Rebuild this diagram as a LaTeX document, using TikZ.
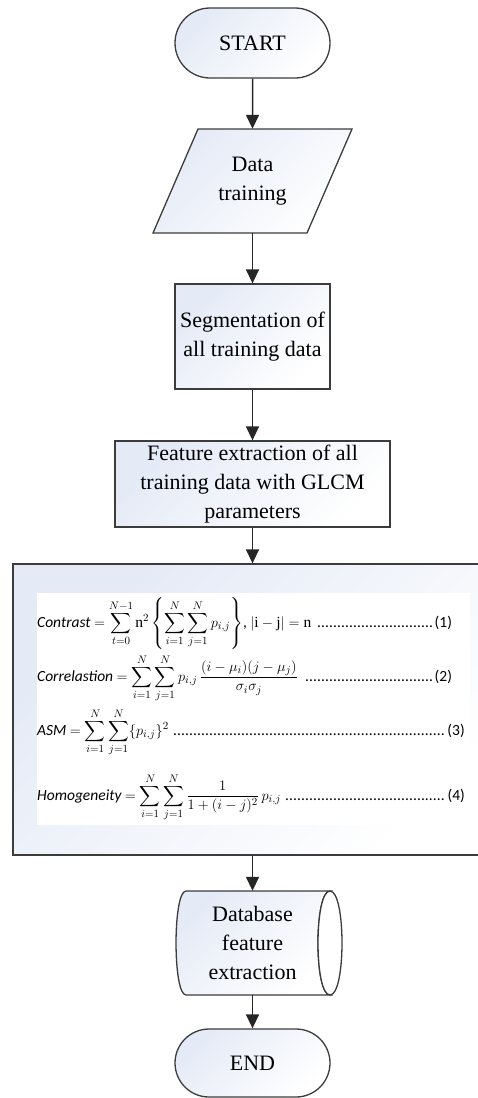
\documentclass[tikz,border=0pt]{standalone}
\usepackage{amsmath}
\usepackage{fontspec}
\setmainfont{Liberation Serif}
\newfontfamily\serifx{Liberation Serif}
\newfontfamily\eqf{Carlito}
\usetikzlibrary{shapes.misc,arrows.meta}
\definecolor{fillc}{RGB}{228,234,246}
\definecolor{edgec}{RGB}{60,60,60}
\newcommand\mydotsfill{\leaders\hbox to 4pt{\hss.\hss}\hfill}
\begin{document}
\begin{tikzpicture}[x=1pt,y=-1pt,
  shadefill/.style={top color=fillc, bottom color=white, shading angle=45},
  box/.style={draw=edgec, line width=1.3pt, shadefill, font=\serifx\fontsize{22}{29}\selectfont, align=center, inner sep=0pt},
  term/.style={box, rounded rectangle, minimum width=155pt},
  plain/.style={font=\serifx\fontsize{22}{29}\selectfont, align=center, inner sep=0pt},
  flow/.style={draw=black!85, line width=1.5pt, -{Triangle[width=13pt,length=14pt]}},
  eqline/.style={anchor=base west, inner sep=0pt, font=\eqf\fontsize{15.5}{18}\selectfont}
]
\path[use as bounding box, clip] (0,0) rectangle (478,1098);

% START
\node[term, minimum height=70pt] (start) at (252.5,43) {START};

% Data training (parallelogram)
\draw[draw=edgec, line width=1.3pt, shadefill] (198,129) -- (352,129) -- (307,233) -- (153,233) -- cycle;
\node[plain, minimum width=155pt, minimum height=104pt] (data) at (252.5,181) {Data\\training};

% Segmentation
\node[box, minimum width=155pt, minimum height=105pt] (seg) at (252.5,336.5) {Segmentation of\\all training data};

% Feature extraction
\node[box, minimum width=275pt, minimum height=86pt] (feat) at (252.5,484) {Feature extraction of all\\training data with GLCM\\parameters};

% Equations box
\node[box, minimum width=479pt, minimum height=291pt] (eqbox) at (252.5,709.5) {};
\fill[white] (37,593) rectangle (470,825);

\node[eqline] (eq1) at (37,627) {\hbox to 415pt{\itshape Contrast\upshape\ $=\displaystyle\sum_{t=0}^{N-1}\mathrm{n}^2\left\{\sum_{i=1}^{N}\sum_{j=1}^{N}p_{i,j}\right\}$, $|\mathrm{i}-\mathrm{j}|=\mathrm{n}$ \mydotsfill(1)}};
\node[eqline] (eq2) at (37,681) {\hbox to 415pt{\itshape Correlastion\upshape\ $=\displaystyle\sum_{i=1}^{N}\sum_{j=1}^{N}p_{i,j}\,\frac{(i-\mu_i)(j-\mu_j)}{\sigma_i\sigma_j}$ \mydotsfill(2)}};
\node[eqline] (eq3) at (37,735) {\hbox to 428pt{\itshape ASM\upshape\ $=\displaystyle\sum_{i=1}^{N}\sum_{j=1}^{N}\{p_{i,j}\}^2$ \mydotsfill(3)}};
\node[eqline] (eq4) at (37,800) {\hbox to 428pt{\itshape Homogeneity\upshape\ $=\displaystyle\sum_{i=1}^{N}\sum_{j=1}^{N}\frac{1}{1+(i-j)^2}\,p_{i,j}$ \mydotsfill(4)}};

% Database (stored data shape)
\draw[draw=edgec, line width=1.3pt, shadefill] (186,891) -- (330,891) .. controls (314,891) and (314,995) .. (330,995) -- (186,995) .. controls (172.7,995) and (172.7,891) .. (186,891) -- cycle;
\draw[draw=edgec, line width=1.3pt, fill=white] (330,891) .. controls (346,891) and (346,995) .. (330,995) .. controls (314,995) and (314,891) .. (330,891) -- cycle;
\node[plain, minimum width=155pt, minimum height=104pt] (db) at (252.5,943) {Database\\feature\\extraction};

% END
\node[term, minimum height=68pt] (end) at (252.5,1063) {END};

% connectors
\draw[flow] (start) -- (data);
\draw[flow] (data) -- (seg);
\draw[flow] (seg) -- (feat);
\draw[flow] (feat) -- (eqbox);
\draw[flow] (eqbox) -- (db);
\draw[flow] (db) -- (end);
\end{tikzpicture}
\end{document}
